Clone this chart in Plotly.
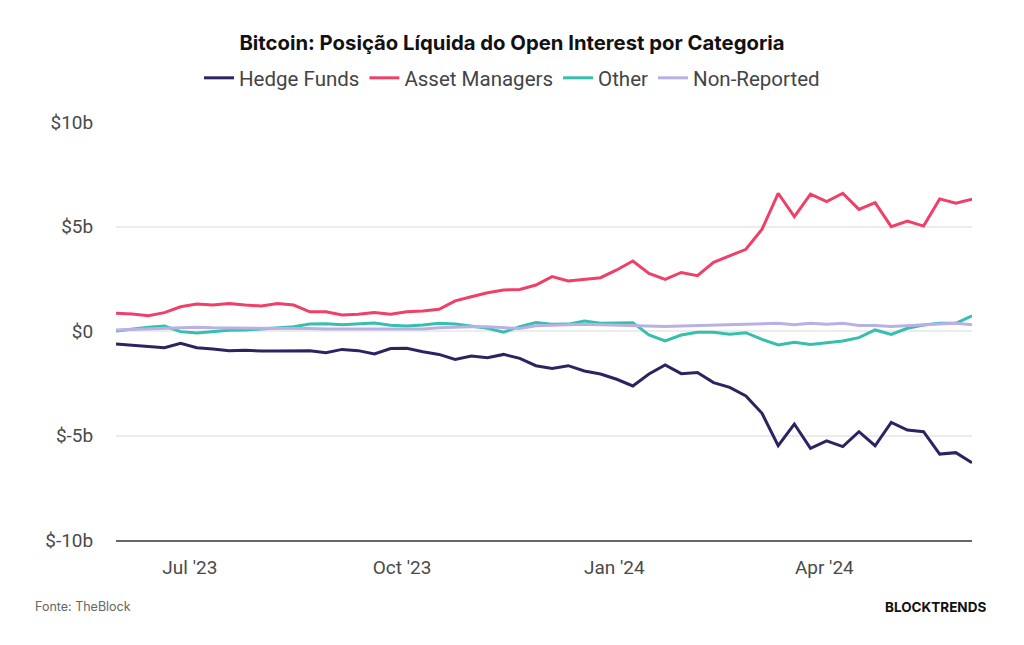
import pandas as pd
import plotly.graph_objects as go

dates = pd.date_range("2023-05-30", periods=54, freq="7D")

hedge_funds = [-0.62, -0.67, -0.72, -0.80, -0.59, -0.80, -0.86, -0.94, -0.92, -0.96,
               -0.96, -0.94, -0.94, -1.04, -0.88, -0.94, -1.10, -0.84, -0.83, -0.99,
               -1.12, -1.36, -1.20, -1.28, -1.12, -1.31, -1.66, -1.79, -1.66, -1.91,
               -2.06, -2.31, -2.63, -2.06, -1.62, -2.04, -1.99, -2.47, -2.70, -3.11,
               -3.94, -5.49, -4.45, -5.61, -5.26, -5.53, -4.82, -5.49, -4.37, -4.74,
               -4.82, -5.89, -5.82, -6.30]
asset_managers = [0.85, 0.81, 0.73, 0.88, 1.16, 1.29, 1.24, 1.32, 1.24, 1.20,
                  1.32, 1.24, 0.92, 0.92, 0.77, 0.80, 0.89, 0.80, 0.92, 0.96,
                  1.04, 1.44, 1.64, 1.83, 1.96, 1.99, 2.20, 2.60, 2.39, 2.47,
                  2.55, 2.92, 3.35, 2.76, 2.47, 2.80, 2.65, 3.29, 3.59, 3.91,
                  4.87, 6.59, 5.47, 6.55, 6.19, 6.59, 5.82, 6.14, 4.99, 5.26,
                  5.02, 6.32, 6.11, 6.30]
other = [0.00, 0.10, 0.18, 0.24, -0.03, -0.10, -0.03, 0.03, 0.05, 0.10,
         0.15, 0.20, 0.33, 0.35, 0.30, 0.33, 0.38, 0.27, 0.24, 0.29,
         0.37, 0.33, 0.24, 0.13, -0.06, 0.21, 0.40, 0.32, 0.33, 0.48,
         0.37, 0.37, 0.40, -0.19, -0.47, -0.19, -0.06, -0.06, -0.16, -0.08,
         -0.40, -0.67, -0.54, -0.64, -0.56, -0.48, -0.32, 0.05, -0.16, 0.13,
         0.29, 0.37, 0.37, 0.73]
non_reported = [0.05, 0.08, 0.12, 0.15, 0.18, 0.18, 0.15, 0.15, 0.15, 0.14,
                0.14, 0.15, 0.12, 0.10, 0.10, 0.08, 0.08, 0.08, 0.08, 0.10,
                0.15, 0.18, 0.20, 0.20, 0.15, 0.12, 0.25, 0.28, 0.30, 0.32,
                0.30, 0.28, 0.28, 0.25, 0.22, 0.24, 0.26, 0.28, 0.30, 0.33,
                0.35, 0.37, 0.30, 0.37, 0.32, 0.37, 0.26, 0.26, 0.21, 0.26,
                0.30, 0.33, 0.37, 0.30]

series_names = ["Hedge Funds", "Asset Managers", "Other", "Non-Reported"]
series_colors = ["#2a2560", "#ee4068", "#36bfad", "#b9b1e6"]

y_tickvals = [10, 5, 0, -5, -10]
y_ticktext = ["$10b", "$5b", "$0", "$-5b", "$-10b"]
x_tickvals = ["2023-07-01", "2023-10-01", "2024-01-01", "2024-04-01"]
x_ticktext = ["Jul '23", "Oct '23", "Jan '24", "Apr '24"]

fig = go.Figure()
for name, vals, col in zip(series_names, [hedge_funds, asset_managers, other, non_reported], series_colors):
    fig.add_trace(go.Scatter(x=dates, y=vals, mode="lines", name=name,
                             line=dict(color=col, width=3)))

fig.update_layout(
    width=1024, height=645,
    margin=dict(l=116, r=52, t=122, b=105),
    paper_bgcolor="white", plot_bgcolor="white",
    font=dict(family="Roboto, sans-serif", color="#4a4a4a", size=19),
    title=dict(text="<b>Bitcoin: Posição Líquida do Open Interest por Categoria</b>",
               x=0.5, xanchor="center", y=1 - 43 / 645, yanchor="middle",
               font=dict(size=20.3, color="#111111", family="Inter, sans-serif")),
    legend=dict(orientation="h", x=0.5, xanchor="center", xref="container",
                y=1 - 78 / 645, yanchor="middle", yref="container",
                font=dict(size=20.5, color="#444444", family="Roboto, sans-serif"),
                itemwidth=30, bgcolor="rgba(0,0,0,0)"),
    showlegend=True,
)
fig.update_xaxes(range=[dates[0], dates[-1]], tickvals=x_tickvals, ticktext=x_ticktext,
                 showgrid=False, showline=True, linecolor="#666666", linewidth=2,
                 ticks="outside", ticklen=9, tickcolor="rgba(0,0,0,0)",
                 tickfont=dict(size=19, color="#4a4a4a"), zeroline=False)
fig.update_yaxes(range=[-10, 10], tickvals=y_tickvals, ticktext=y_ticktext,
                 showgrid=True, gridcolor="#ececec", gridwidth=1.5, zeroline=False,
                 showline=False, ticks="outside", ticklen=18, tickcolor="rgba(0,0,0,0)",
                 tickfont=dict(size=19, color="#4a4a4a"))

fig.add_annotation(text="Fonte: TheBlock", xref="paper", yref="paper",
                   x=(33 - 116) / 856, y=(540 - 606) / 418, xanchor="left", yanchor="middle",
                   showarrow=False, font=dict(size=12.5, color="#666666", family="Inter, sans-serif"))
fig.add_annotation(text="<b>BLOCKTRENDS</b>", xref="paper", yref="paper",
                   x=(988 - 116) / 856, y=(540 - 607) / 418, xanchor="right", yanchor="middle",
                   showarrow=False, font=dict(size=13.5, color="#111111", family="Inter, sans-serif"))

fig.write_html("out.html")
